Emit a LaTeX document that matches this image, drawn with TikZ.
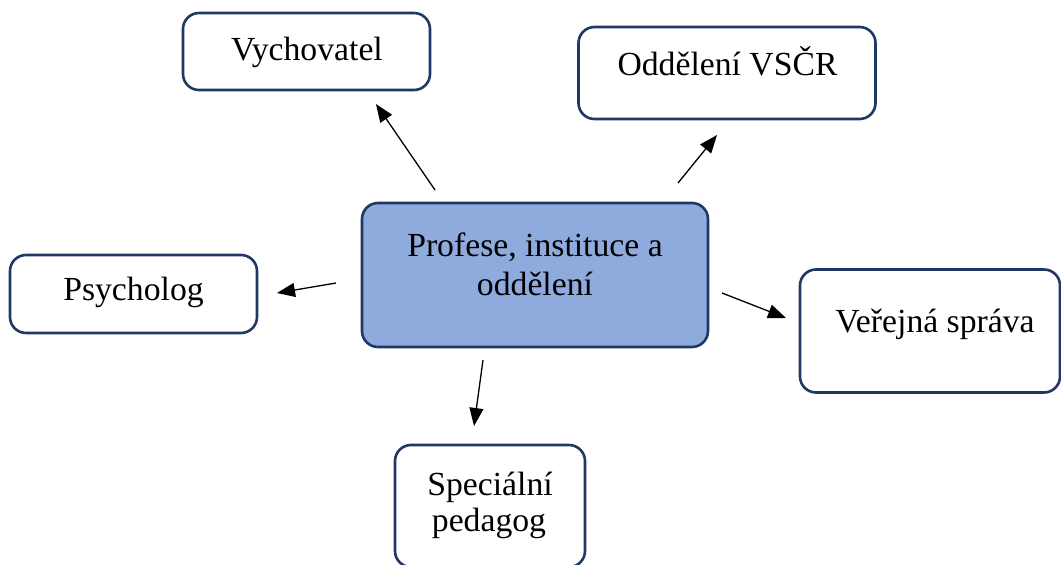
\documentclass[tikz,border=0pt]{standalone}
\usepackage{fontspec}
\setmainfont{Liberation Serif}
\usetikzlibrary{arrows.meta}
\definecolor{navy}{HTML}{1F3864}
\definecolor{boxblue}{HTML}{8FAADC}
\begin{document}
\begin{tikzpicture}[x=1pt,y=-1pt,
  box/.style={draw=navy, line width=2.6pt, rounded corners=16pt, fill=white, inner sep=0pt},
  lbl/.style={font=\fontsize{33.7}{38}\selectfont, inner sep=0pt, anchor=base},
  arr/.style={-{Triangle[length=18pt,width=14pt]}, line width=1.3pt, black}]
\useasboundingbox (0,0) rectangle (1061,565);
% boxes
\node[box, fill=boxblue, minimum width=346pt, minimum height=144pt] (center) at (535,275) {};
\node[box, minimum width=247pt, minimum height=77pt] (vych) at (306.5,51.5) {};
\node[box, minimum width=297pt, minimum height=92pt] (vscr) at (727,73) {};
\node[box, minimum width=247pt, minimum height=78pt] (psych) at (133.5,294) {};
\node[box, minimum width=260pt, minimum height=123pt] (vs) at (930,331) {};
\node[box, minimum width=190pt, minimum height=122pt] (sp) at (490,506) {};
% labels
\node[lbl] (t1) at (535,256) {Profese, instituce a};
\node[lbl] (t2) at (535,295) {oddělení};
\node[lbl] (tv) at (307,60) {Vychovatel};
\node[lbl] (to) at (727.5,75) {Oddělení VSČR};
\node[lbl] (tp) at (133.5,300) {Psycholog};
\node[lbl] (tw) at (935,332) {Veřejná správa};
\node[lbl] (ts1) at (490,495) {Speciální};
\node[lbl] (ts2) at (489,531) {pedagog};
% arrow end points
\coordinate (a1s) at (435,190); \coordinate (a1e) at (376,104);
\coordinate (a2s) at (678,183); \coordinate (a2e) at (717,135);
\coordinate (a3s) at (336,283); \coordinate (a3e) at (277,293);
\coordinate (a4s) at (722,293); \coordinate (a4e) at (786,318);
\coordinate (a5s) at (483,360); \coordinate (a5e) at (474,426);
\draw[arr] (a1s) -- (a1e);
\draw[arr] (a2s) -- (a2e);
\draw[arr] (a3s) -- (a3e);
\draw[arr] (a4s) -- (a4e);
\draw[arr] (a5s) -- (a5e);
\end{tikzpicture}
\end{document}
